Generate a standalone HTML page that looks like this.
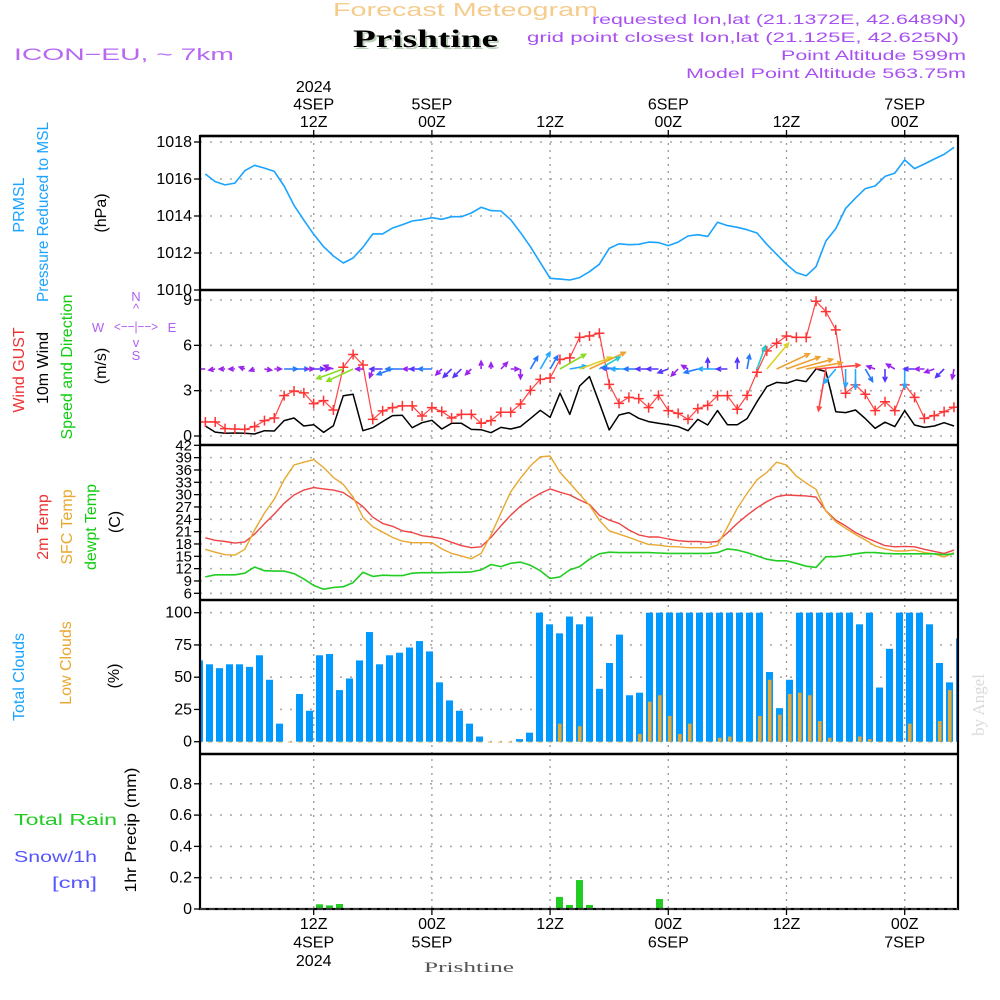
<!DOCTYPE html>
<html><head><meta charset="utf-8"><title>Forecast Meteogram - Prishtine</title>
<style>
html,body{margin:0;padding:0;background:#fff;}
svg{display:block;}
text{font-family:"Liberation Sans","DejaVu Sans",sans-serif;}
</style></head>
<body>
<svg id="chart" width="1000" height="1000" viewBox="0 0 1000 1000" xmlns="http://www.w3.org/2000/svg">
<defs><clipPath id="plotclip"><rect x="200" y="136" width="758" height="773"/></clipPath></defs>
<rect x="0" y="0" width="1000" height="1000" fill="#fff"/>
<!-- header -->
<text x="333" y="16" font-size="18" fill="#f5cc8c" textLength="265" lengthAdjust="spacingAndGlyphs">Forecast Meteogram</text>
<text x="355" y="49" font-size="25" font-weight="bold" fill="#bcd0bc" style="font-family:'Liberation Serif',serif" textLength="145" lengthAdjust="spacingAndGlyphs">Prishtine</text>
<text x="353" y="47" font-size="25" font-weight="bold" fill="#000" style="font-family:'Liberation Serif',serif" textLength="145" lengthAdjust="spacingAndGlyphs">Prishtine</text>
<text x="14" y="60" font-size="17" fill="#b868f0" textLength="220" lengthAdjust="spacingAndGlyphs">ICON−EU, ~ 7km</text>
<text x="592" y="24" font-size="14" fill="#a850f0" textLength="374" lengthAdjust="spacingAndGlyphs">requested lon,lat (21.1372E, 42.6489N)</text>
<text x="527" y="42" font-size="14" fill="#a850f0" textLength="432" lengthAdjust="spacingAndGlyphs">grid point closest lon,lat (21.125E, 42.625N)</text>
<text x="781" y="60" font-size="14" fill="#a850f0" textLength="185" lengthAdjust="spacingAndGlyphs">Point Altitude 599m</text>
<text x="686" y="78" font-size="14" fill="#a850f0" textLength="280" lengthAdjust="spacingAndGlyphs">Model Point Altitude 563.75m</text>

<!-- left labels -->
<g font-size="16">
<text transform="translate(24,205) rotate(-90)" text-anchor="middle" fill="#1aa3ff">PRMSL</text>
<text transform="translate(48,212) rotate(-90)" text-anchor="middle" fill="#1aa3ff" textLength="180" lengthAdjust="spacingAndGlyphs">Pressure Reduced to MSL</text>
<text transform="translate(106,213) rotate(-90)" text-anchor="middle" fill="#000">(hPa)</text>
<text transform="translate(24,370) rotate(-90)" text-anchor="middle" fill="#ee3333">Wind GUST</text>
<text transform="translate(48,368) rotate(-90)" text-anchor="middle" fill="#000">10m Wind</text>
<text transform="translate(72,367) rotate(-90)" text-anchor="middle" fill="#11cc11" textLength="145" lengthAdjust="spacingAndGlyphs">Speed and Direction</text>
<text transform="translate(106,366) rotate(-90)" text-anchor="middle" fill="#000">(m/s)</text>
<text transform="translate(48,527) rotate(-90)" text-anchor="middle" fill="#ee3333">2m Temp</text>
<text transform="translate(72,527) rotate(-90)" text-anchor="middle" fill="#e8a830">SFC Temp</text>
<text transform="translate(96,527) rotate(-90)" text-anchor="middle" fill="#11cc11">dewpt Temp</text>
<text transform="translate(120,522) rotate(-90)" text-anchor="middle" fill="#000">(C)</text>
<text transform="translate(24,677) rotate(-90)" text-anchor="middle" fill="#1aa3ff">Total Clouds</text>
<text transform="translate(71,663) rotate(-90)" text-anchor="middle" fill="#e8a830">Low Clouds</text>
<text transform="translate(119,676) rotate(-90)" text-anchor="middle" fill="#000">(%)</text>
<text transform="translate(136,830) rotate(-90)" text-anchor="middle" fill="#000" textLength="125" lengthAdjust="spacingAndGlyphs">1hr Precip (mm)</text>
<text x="14" y="825" fill="#22cc22" textLength="103" lengthAdjust="spacingAndGlyphs">Total   Rain</text>
<text x="14" y="862" fill="#5555ff" textLength="83" lengthAdjust="spacingAndGlyphs">Snow/1h</text>
<text x="52" y="888" fill="#5555ff" textLength="45" lengthAdjust="spacingAndGlyphs">[cm]</text>
</g>
<!-- compass -->
<g fill="#b060f0" font-size="13" text-anchor="middle">
<text x="136" y="301">N</text><text x="136" y="313">^</text>
<text x="98" y="332">W</text><text x="136" y="331" textLength="44" lengthAdjust="spacingAndGlyphs">&lt;−−|−−&gt;</text><text x="172" y="332">E</text>
<text x="136" y="347">v</text><text x="136" y="360">S</text>
</g>
<text transform="translate(984,705) rotate(-90)" text-anchor="middle" font-size="17" fill="#d8dcd8" style="font-family:'Liberation Serif',serif">by Angel</text>
<text x="424" y="972" font-size="15" fill="#555" style="font-family:'Liberation Serif',serif" textLength="90" lengthAdjust="spacingAndGlyphs">Prishtine</text>

<g id="grid"></g>
<g id="marks" clip-path="url(#plotclip)"></g>
<g id="frame"></g>
<g id="axes"></g>
</svg>
<script>
// ---------- data ----------
const hours = Array.from({length:77},(_,i)=>i+1);
const pressure = [1016.27,1015.86,1015.68,1015.78,1016.45,1016.74,1016.59,1016.41,1015.62,1014.58,1013.78,1013.01,1012.34,1011.84,1011.46,1011.73,1012.31,1013.03,1013.03,1013.35,1013.53,1013.73,1013.80,1013.91,1013.82,1013.96,1013.96,1014.16,1014.47,1014.29,1014.27,1013.80,1013.10,1012.34,1011.48,1010.63,1010.59,1010.54,1010.67,1010.99,
1011.39,1012.25,1012.50,1012.45,1012.47,1012.59,1012.56,1012.40,1012.59,1012.92,1012.99,1012.90,1013.66,1013.48,1013.39,1013.26,1013.08,1012.47,1011.93,1011.39,1010.94,1010.77,1011.26,1012.65,1013.32,1014.41,1014.97,1015.48,1015.62,1016.14,1016.32,1017.03,1016.56,1016.81,1017.08,1017.33,1017.71];
const gust = [0.93,0.93,0.49,0.46,0.44,0.62,1.02,1.19,2.67,2.98,2.85,2.14,2.34,1.72,4.55,5.39,4.70,1.10,1.66,1.88,1.99,1.99,1.32,1.88,1.63,1.19,1.43,1.43,0.84,1.02,1.57,1.57,2.12,3.02,3.75,3.84,5.06,5.17,6.53,6.62,
6.80,3.42,2.16,2.56,2.47,1.88,2.69,1.68,1.50,1.10,1.81,2.03,2.67,2.67,1.77,2.69,4.22,5.63,6.14,6.62,6.53,6.53,8.92,8.23,7.02,2.83,3.38,2.76,1.68,2.27,1.68,3.38,2.56,1.17,1.35,1.61,1.90];
const wind10 = [0.66,0.26,0.18,0.20,0.18,0.13,0.35,0.33,1.02,1.19,0.66,0.75,0.24,0.68,2.67,2.76,0.35,0.55,0.95,1.35,1.37,0.55,0.88,1.04,0.46,0.84,0.84,0.44,0.42,0.22,0.57,0.46,0.62,1.15,1.70,1.24,2.83,1.43,3.31,3.93,
2.2,0.40,1.39,1.55,1.17,0.95,0.84,0.75,0.62,0.35,1.10,0.73,1.68,0.75,0.75,1.15,2.27,3.27,3.55,3.49,3.71,3.60,4.44,4.26,1.61,1.55,1.72,1.15,0.51,0.91,0.62,1.68,0.73,0.57,0.66,0.88,0.66];
const windDir = [180,190,180,180,160,200,350,0,0,0,0,0,0,160,200,205,180,250,180,200,180,180,180,180,225,225,225,225,90,90,45,0,270,60,60,60,30,10,20,25,
30,170,175,180,180,180,180,200,225,150,195,90,180,180,90,80,70,50,25,20,15,10,5,260,230,270,270,300,160,270,150,270,180,180,200,225,260];
const temp2m = [19.5,18.9,18.6,18.2,18.5,20.4,22.9,25.3,27.9,29.9,31.1,31.7,31.4,31.1,30.5,28.9,27.1,24.5,23.0,22.3,21.2,20.8,20.0,19.7,19.3,18.4,17.6,17.1,17.3,19.6,22.4,25.0,27.2,28.9,30.3,31.4,30.6,29.9,28.7,27.6,
25.0,23.8,23.0,21.4,20.2,19.7,19.7,19.2,18.8,18.6,18.6,18.4,18.6,20.7,23.0,25.0,26.8,28.3,29.5,29.9,29.8,29.7,29.4,26.1,23.8,22.4,20.8,19.6,18.6,17.6,17.3,17.4,17.3,16.7,16.2,15.7,16.5];
const sfcTemp = [16.7,16.0,15.4,15.3,16.7,21.4,25.5,28.9,33.6,37.2,37.9,38.5,36.6,34.2,32.5,29.4,24.5,22.2,20.9,19.6,18.7,18.3,18.3,18.3,16.8,15.7,15.1,14.4,15.7,20.2,25.5,30.7,34.0,37.0,39.2,39.4,35.4,32.8,30.1,27.4,
23.8,21.2,20.4,19.6,18.7,17.9,17.7,17.4,17.3,17.1,17.1,17.1,17.7,22.1,26.7,30.3,33.6,35.4,37.9,37.2,34.5,32.8,31.3,26.0,23.4,21.8,20.3,19.0,17.5,16.8,16.3,16.3,16.5,15.9,15.6,14.8,15.9];
const dewpt = [10.0,10.5,10.5,10.5,10.9,12.4,11.5,11.4,11.4,10.8,9.5,7.9,7.0,7.4,7.6,8.6,11.1,10.1,10.4,10.3,10.3,10.9,11.0,11.0,11.0,11.1,11.1,11.2,11.7,13.0,12.5,13.3,13.6,12.8,11.5,9.6,10.0,11.7,12.5,14.3,
15.6,16.0,15.9,15.9,15.9,15.9,15.8,15.7,15.7,15.7,15.7,15.7,15.9,16.8,16.5,15.9,15.1,14.3,13.9,13.9,13.3,12.6,12.3,14.9,14.9,15.2,15.6,15.9,15.9,15.7,15.6,15.6,15.6,15.6,15.6,15.4,15.6];
const totalClouds = [63,60,57,60,60,58,67,48,14,0,37,24,67,68,40,49,63,85,60,67,69,73,78,70,46,32,24,14,4,0,0,0,2,7,100,91,84,97,91,97,41,61,83,36,38,
100,100,100,100,100,100,100,100,100,100,100,100,54,26,48,100,100,100,100,100,100,91,100,42,72,100,100,100,91,61,46,80];
const lowClouds = [0,0,0,0,0,0,0,0,0,0,0,0,0,0,0,0,0,0,0,0,0,0,0,0,0,0,0,0,0,0,0,0,0,0,0,0,14,0,12,0,0,0,0,0,6,
31,36,20,6,14,0,0,3,4,0,0,20,48,21,37,38,36,16,3,0,0,4,2,0,0,0,14,0,0,16,40,40];
const precip = [0,0,0,0,0,0,0,0,0,0,0,0,0.03,0.023,0.032,0,0,0,0.006,0,0,0,0,0,0,0,0,0,0,0,0,0,0,0,0,0,0.077,0.026,0.185,0.026,0,0,0,0,0,0,0.064,0,0,0,0,0,0,0,0,0,0,0,0,0,0,0,0,0.005,0,0,0,0,0,0,0,0,0,0,0,0,0];
const pTicks = [1010,1012,1014,1016,1018];
const wTicks = [0,3,6,9];
const tTicks = [6,9,12,15,18,21,24,27,30,33,36,39,42];
const cTicks = [0,25,50,75,100];
const rTicks = ["0","0.2","0.4","0.6","0.8"];
const timeHours = [12,24,36,48,60,72];
const timeTopLabels = [["2024","4SEP","12Z"],["5SEP","00Z"],["12Z"],["6SEP","00Z"],["12Z"],["7SEP","00Z"]];
const timeBottomLabels = [["12Z","4SEP","2024"],["00Z","5SEP"],["12Z"],["00Z","6SEP"],["12Z"],["00Z","7SEP"]];

// ---------- axes ----------
const xH = h => 313.7 + (h-12)*9.85;
const xB = i => 196 + i*10;
const yP = p => 142 + (1018-p)*18.5;
const yW = v => 436 - v*15.11;
const yT = t => 593.3 - (t-6)*4.111;
const yC = c => 741.7 - c*1.29;
const yR = r => 909 - r*156.5;
const X0=200, X1=958;

const NS="http://www.w3.org/2000/svg";
function mk(tag, attrs, parent){const e=document.createElementNS(NS,tag);for(const k in attrs)e.setAttribute(k,attrs[k]);parent.appendChild(e);return e;}
const grid=document.getElementById('grid'), marks=document.getElementById('marks'), frame=document.getElementById('frame'), axes=document.getElementById('axes');

function hgrid(y){const l=mk('line',{x1:X0,x2:X1,y1:y,y2:y,stroke:'#aaa','stroke-width':1.6,'stroke-dasharray':'2 8'},grid);

}
function ytick(y,label,panel,fs){const t=mk('line',{x1:194,x2:200,y1:y,y2:y,stroke:'#000','stroke-width':1.3},axes);


const tx=mk('text',{x:192,y:y+5,'text-anchor':'end','font-size':fs||16,fill:'#000'},axes);


tx.textContent=label;}
pTicks.forEach(p=>{if(p>1010)hgrid(yP(p));ytick(yP(p),String(p),'pressure-axis');});
wTicks.forEach(v=>{hgrid(yW(v));ytick(yW(v),String(v),'wind-axis');});
tTicks.forEach(t=>{if(t<42)hgrid(yT(t));ytick(yT(t),String(t),'temp-axis',15);});
cTicks.forEach(c=>{hgrid(yC(c));ytick(yC(c),String(c),'cloud-axis');});
rTicks.forEach(r=>{const v=parseFloat(r);if(v>0)hgrid(yR(v));ytick(yR(v),r,'precip-axis');});
timeHours.forEach((h,k)=>{
 const x=xH(h);
 const l=mk('line',{x1:x,x2:x,y1:136,y2:909,stroke:'#999','stroke-width':1.3,'stroke-dasharray':'2 5'},grid);
 
 
 mk('line',{x1:x,x2:x,y1:130,y2:136,stroke:'#000','stroke-width':1.3},axes);
 mk('line',{x1:x,x2:x,y1:909,y2:915,stroke:'#000','stroke-width':1.3},axes);
 const top=timeTopLabels[k];
 top.forEach((s,j)=>{const t=mk('text',{x:x,y:127-(top.length-1-j)*17.5,'text-anchor':'middle','font-size':16,fill:'#000'},axes);
  
  
  t.textContent=s;});
 timeBottomLabels[k].forEach((s,j)=>{const t=mk('text',{x:x,y:929+j*18.5,'text-anchor':'middle','font-size':16,fill:'#000'},axes);
  
  
  t.textContent=s;});
});

[[136],[290],[445],[600],[754]].forEach(([y])=>{const l=mk('line',{x1:X0,x2:X1,y1:y,y2:y,stroke:'#000','stroke-width':2.5},frame);
 
 });
const fr=mk('rect',{x:X0,y:136,width:X1-X0,height:773,fill:'none',stroke:'#000','stroke-width':2.2},frame);


const zl=mk('line',{x1:X0,x2:X1,y1:909,y2:909,stroke:'#333','stroke-width':2,'stroke-dasharray':'6 3'},frame);



function series(vals,yf,color,name,w){
 const d=vals.map((v,i)=>(i?'L':'M')+xH(hours[i]).toFixed(1)+','+yf(v).toFixed(1)).join(' ');
 const p=mk('path',{d:d,fill:'none',stroke:color,'stroke-width':w||1.5,'stroke-linejoin':'round'},marks);
 
 
}
totalClouds.forEach((c,i)=>{const r=mk('rect',{x:xB(i),y:yC(c),width:7,height:yC(0)-yC(c),fill:'#0099ff'},marks);
 
 });
lowClouds.forEach((c,i)=>{const r=mk('rect',{x:xB(i)+2,y:yC(c),width:3.5,height:Math.max(0.8,yC(0)-yC(c)),fill:'#e8a830'},marks);
 
 });
precip.forEach((r,i)=>{if(r<=0)return;const b=mk('rect',{x:xB(i),y:yR(r),width:7,height:yR(0)-yR(r),fill:'#22cc22'},marks);
 
 });

series(pressure,yP,'#1aa3ff','pressure-line',1.6);
series(temp2m,yT,'#ee4444','temp-2m-line',1.4);
series(sfcTemp,yT,'#e8a830','sfc-temp-line',1.4);
series(dewpt,yT,'#22cc22','dewpoint-line',1.6);
series(wind10,yW,'#000','wind-10m-line',1.5);
series(gust,yW,'#ff4444','wind-gust-line',1.2);
gust.forEach((v,i)=>{const x=xH(hours[i]),y=yW(v);
 const c=mk('path',{d:`M${x-5},${y}H${x+5}M${x},${y-5}V${y+5}`,stroke:'#ff3333','stroke-width':1.5},marks);
 
 });

function arrowColor(s){if(s<0.7)return'#9922ee';if(s<1.0)return'#5533ff';if(s<1.4)return'#2277ff';if(s<1.8)return'#22aaff';if(s<2.3)return'#22cccc';if(s<2.9)return'#88dd22';if(s<3.4)return'#ddd022';if(s<4.2)return'#eea030';return'#ff4444';}
windDir.forEach((dgr,i)=>{
 const s=wind10[i],x=xH(hours[i]),y=369,len=4+s*9,a=dgr*Math.PI/180;
 const hx=x+len*Math.cos(a),hy=y-len*Math.sin(a);
 const hl=5;
 const b1=a+Math.PI-0.45,b2=a+Math.PI+0.45;
 const d=`M${x.toFixed(1)},${y} L${hx.toFixed(1)},${hy.toFixed(1)} M${(hx+hl*Math.cos(b1)).toFixed(1)},${(hy-hl*Math.sin(b1)).toFixed(1)} L${hx.toFixed(1)},${hy.toFixed(1)} L${(hx+hl*Math.cos(b2)).toFixed(1)},${(hy-hl*Math.sin(b2)).toFixed(1)}`;
 const p=mk('path',{d:d,fill:'none',stroke:arrowColor(s),'stroke-width':1.6},marks);
 
 
});
</script>
</body></html>
